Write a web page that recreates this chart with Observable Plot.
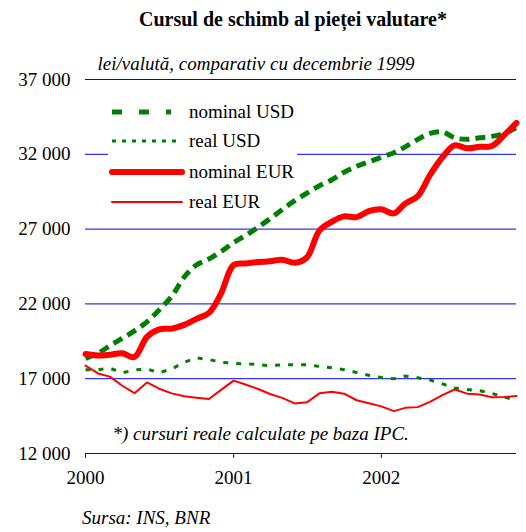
<!DOCTYPE html>
<html><head><meta charset="utf-8">
<script src="https://cdn.jsdelivr.net/npm/d3@7"></script>
<script src="https://cdn.jsdelivr.net/npm/@observablehq/plot@0.6"></script>
<style>
body{margin:0;background:#fff;}
#wrap{position:relative;width:526px;height:532px;font-family:"Liberation Serif","Times New Roman",serif;color:#000;}
.abs{position:absolute;}
#chart svg text, #legend svg text{font-family:"Liberation Serif","Times New Roman",serif;}
</style></head><body>
<div id="wrap">
<div class="abs" id="title" style="top:9px;left:60px;width:466px;text-align:center;font-weight:bold;font-size:20px;line-height:20px;white-space:nowrap;"></div>
<div class="abs" id="chart" style="top:40px;left:0"></div>
<div class="abs" id="legend" style="top:95px;left:108px"></div>
<div class="abs" id="source" style="top:508px;left:82px;font-style:italic;font-size:19px;line-height:19px;white-space:nowrap;"></div>
</div>
<script>
const titleText = "Cursul de schimb al pieței valutare*";
const subtitleText = "lei/valută, comparativ cu decembrie 1999";
const footnoteText = "*) cursuri reale calculate pe baza IPC.";
const sourceText = "Sursa: INS, BNR";

const seriesNames = ["nominal USD", "real USD", "nominal EUR", "real EUR"];
// monthly values, Jan 2000 .. Dec 2002
const nominalUSD = [18350,18700,19200,19700,20200,20800,21600,22500,23800,24600,25000,25500,
                    26100,26600,27100,27700,28300,28900,29400,29900,30300,30800,31200,31500,
                    31800,32100,32500,33000,33400,33500,33100,33000,33100,33200,33400,33800];
const realUSD    = [17600,17600,17700,17400,17580,17650,17400,17650,18100,18400,18280,18100,
                    18030,17990,17950,17870,17930,17930,17930,17820,17730,17600,17420,17230,
                    17080,17000,17180,17060,16920,16650,16380,16280,16200,16020,15760,15580];
const nominalEUR = [18650,18550,18600,18700,18450,19800,20300,20350,20600,21000,21400,22700,
                    24600,24700,24800,24850,24950,24750,25100,26900,27500,27850,27800,28200,
                    28320,28050,28700,29200,30600,31800,32600,32400,32500,32550,33300,34100];
const realEUR    = [17880,17350,17140,16530,16030,16750,16330,16020,15830,15730,15640,16250,
                    16870,16600,16330,15980,15720,15350,15420,16020,16130,16000,15560,15360,
                    15150,14830,15050,15100,15450,15900,16280,16000,15940,15760,15780,15850];
const yTicks = [12000, 17000, 22000, 27000, 32000, 37000];
const xTickYears = [2000, 2001, 2002];

const months = d3.utcMonth.range(new Date(Date.UTC(2000,0,1)), new Date(Date.UTC(2003,0,1)));
const xTicks = xTickYears.map(y => new Date(Date.UTC(y,0,1)));
const fmt = d3.formatLocale({decimal: ",", thousands: " ", grouping: [3], currency: ["", ""]}).format(",");
const serifFont = '"Liberation Serif", "Times New Roman", serif';

const styles = [
  {stroke: "#008000", strokeWidth: 5, strokeDasharray: "10,6", curve: "catmull-rom", legendDash: "10,17", legendEnd: 63},
  {stroke: "#008000", strokeWidth: 3, strokeDasharray: "5,8", curve: "linear", legendDash: "4,6", legendEnd: 74},
  {stroke: "#ff0000", strokeWidth: 6, strokeDasharray: null, curve: "catmull-rom", legendDash: null, legendEnd: 74},
  {stroke: "#ff0000", strokeWidth: 2, strokeDasharray: null, curve: "linear", legendDash: null, legendEnd: 74}
];
const seriesValues = [nominalUSD, realUSD, nominalEUR, realEUR];

document.getElementById("title").textContent = titleText;
document.getElementById("source").textContent = sourceText;

const lineMarks = seriesValues.map((vals, i) => Plot.lineY(vals, {
  x: months,
  stroke: styles[i].stroke,
  strokeWidth: styles[i].strokeWidth,
  strokeDasharray: styles[i].strokeDasharray,
  curve: styles[i].curve,
  strokeLinejoin: "round",
  strokeLinecap: styles[i].strokeDasharray ? "butt" : "round"
}));

const chart = Plot.plot({
  width: 526, height: 460,
  marginTop: 39, marginBottom: 47, marginLeft: 85, marginRight: 10,
  style: {fontFamily: serifFont, fontSize: "19px", background: "transparent", color: "black", overflow: "visible"},
  x: {type: "utc", domain: [months[0], months[months.length - 1]], label: null},
  y: {domain: [12000, 37000], label: null},
  marks: [
    Plot.gridY(yTicks, {stroke: "blue", strokeOpacity: 1, strokeWidth: 1}),
    Plot.axisY(yTicks, {tickSize: 0, tickPadding: 15, tickFormat: fmt, fill: "black", label: null}),
    Plot.axisX(xTicks, {tickSize: 5, tickPadding: 12, tickFormat: "%Y", stroke: "blue", fill: "black", label: null}),
    Plot.text([subtitleText], {frameAnchor: "top-left", dx: 12, dy: -10, lineAnchor: "bottom", textAnchor: "start", fontStyle: "italic", fill: "black"}),
    Plot.text([footnoteText], {frameAnchor: "bottom-left", dx: 27, dy: -14, lineAnchor: "bottom", textAnchor: "start", fontStyle: "italic", fill: "black"}),
    ...lineMarks
  ]
});
document.getElementById("chart").appendChild(chart);

// legend
const lg = d3.select("#legend").append("svg").attr("width", 189).attr("height", 120)
  .style("display", "block").style("overflow", "visible");
lg.append("rect").attr("width", 189).attr("height", 64).attr("fill", "white");
const rowY = [17, 46, 77, 107];
seriesNames.forEach((name, i) => {
  const s = styles[i];
  const ln = lg.append("line").attr("x1", 4).attr("x2", s.legendEnd).attr("y1", rowY[i]).attr("y2", rowY[i])
    .attr("stroke", s.stroke).attr("stroke-width", s.strokeWidth)
    .attr("stroke-linecap", s.legendDash ? "butt" : "round");
  if (s.legendDash) ln.attr("stroke-dasharray", s.legendDash);
  lg.append("text").attr("x", 81).attr("y", rowY[i] + 6)
    .style("font-family", serifFont).attr("font-size", 19)
    .attr("fill", "black").text(name);
});
</script>
</body></html>
